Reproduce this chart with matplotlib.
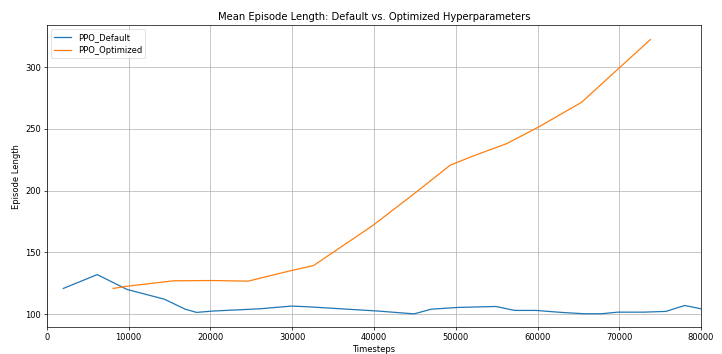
import matplotlib
matplotlib.use("Agg")
import matplotlib.pyplot as plt

default_steps = [2000, 6150, 9800, 14400, 16900, 18300, 20300, 26000, 29900, 31800,
                 40700, 44900, 47000, 50200, 54900, 57200, 59800, 62900, 65700,
                 67800, 69800, 73000, 75700, 78000, 80000]
default_len = [120.8, 132, 120, 112, 104, 101.4, 102.5, 104.3, 106.5, 106,
               102.4, 100.2, 104, 105.4, 106.2, 103, 103, 101.4, 100.3,
               100.3, 101.6, 101.6, 102.2, 107, 104.3]

opt_steps = [8100, 9800, 15500, 20300, 24600, 29700, 32600, 39900, 45200, 49300,
             52100, 56200, 60100, 65400, 70100, 73800]
opt_len = [120.8, 122.6, 127, 127.2, 126.7, 135, 139.3, 172, 199, 220.5,
           228, 238, 251.4, 271.6, 300, 322.3]

fig = plt.figure(figsize=(7.22, 3.54), dpi=100)
ax = fig.add_axes([0.065, 0.076, 0.906, 0.853])
ax.plot(default_steps, default_len, color="#1f77b4", lw=0.9, label="PPO_Default")
ax.plot(opt_steps, opt_len, color="#ff7f0e", lw=0.9, label="PPO_Optimized")
ax.set_xlim(0, 80000)
ax.set_ylim(89.5, 334)
ax.set_title("Mean Episode Length: Default vs. Optimized Hyperparameters", fontsize=7.2, pad=4)
ax.set_xlabel("Timesteps", fontsize=6, labelpad=2)
ax.set_ylabel("Episode Length", fontsize=6, labelpad=3)
ax.tick_params(labelsize=6, length=2.1, width=0.5, pad=2)
for s in ax.spines.values():
    s.set_linewidth(0.5)
ax.grid(True, lw=0.5, color="#b0b0b0")
ax.legend(loc="upper left", fontsize=6, frameon=True, borderpad=0.4, handlelength=2,
          framealpha=0.8).get_frame().set_linewidth(0.5)
fig.savefig("out.png", dpi=100)
